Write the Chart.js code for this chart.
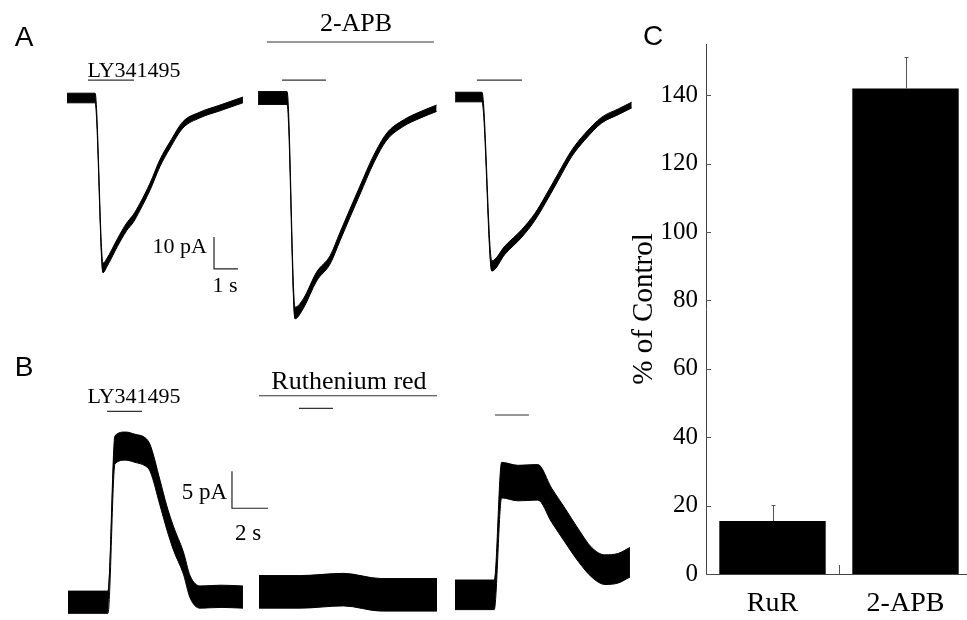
<!DOCTYPE html>
<html><head><meta charset="utf-8">
<script src="https://cdn.jsdelivr.net/npm/chart.js@4.4.1/dist/chart.umd.min.js"></script>
<style>
html,body{margin:0;padding:0;background:#fff;overflow:hidden;width:967px;height:620px;}
#wrap{position:relative;width:967px;height:620px;overflow:hidden;background:#fff;}
canvas{position:absolute;}
.t{position:absolute;transform:translate(-50%,-50%);line-height:1;white-space:nowrap;font-family:"Liberation Serif","Times New Roman",serif;color:#000;z-index:5;}
.r{transform:translate(-100%,-50%);}
.p{font-family:"Liberation Sans",Arial,sans-serif;font-size:28px;}
</style></head>
<body><div id="wrap">
<canvas id="chartA" width="660" height="340" style="left:0;top:0"></canvas>
<canvas id="chartB" width="660" height="280" style="left:0;top:340px"></canvas>
<canvas id="chartC" width="360" height="620" style="left:620px;top:0"></canvas>
<div class="t p" style="left:24px;top:37px">A</div>
<div class="t p" style="left:24px;top:367px">B</div>
<div class="t p" style="left:653px;top:36px">C</div>
<div class="t" style="left:134px;top:69.5px;font-size:22px">LY341495</div>
<div class="t" style="left:356px;top:23px;font-size:26px">2-APB</div>
<div class="t r" style="left:207px;top:246px;font-size:22px">10 pA</div>
<div class="t" style="left:225px;top:284.5px;font-size:22px">1 s</div>
<div class="t" style="left:134px;top:396px;font-size:22px">LY341495</div>
<div class="t" style="left:349px;top:381px;font-size:26px">Ruthenium red</div>
<div class="t r" style="left:227px;top:491px;font-size:23px">5 pA</div>
<div class="t" style="left:248px;top:532px;font-size:23px">2 s</div>
</div>
<script>
// ---------- Panel A: currents (pA) vs time (s) ----------
const timeA1 = [0, 1.17, 1.5, 1.65, 2.1, 2.49, 2.75, 3.04, 3.46, 3.875, 4.29, 4.83, 5.54, 6.375, 7.33];
const currentA1 = [0, 0, -53.1, -51.6, -45.2, -40.2, -37.8, -34.0, -27.7, -20.3, -14.7, -8.4, -5.3, -3.1, -0.6];
const noiseA1 = [1.5, 1.5, 1.5, 1.3, 1.2, 1.2, 1.2, 1.1, 1.1, 1.1, 1.0, 1.0, 0.9, 0.9, 0.9];

const timeA2 = [7.96, 9.17, 9.5, 9.85, 10.4, 10.96, 11.375, 11.79, 12.21, 12.76, 13.32, 14.01, 14.71, 15.4];
const currentA2 = [0, 0, -67.2, -64.2, -55.8, -50.6, -43.3, -36.0, -28.75, -19.4, -12.1, -7.9, -5.3, -3.2];
const noiseA2 = [2.0, 2.0, 1.8, 1.5, 1.4, 1.3, 1.3, 1.3, 1.3, 1.2, 1.1, 1.0, 1.0, 1.0];

const timeA3 = [16.17, 17.29, 17.7, 18.25, 18.95, 19.5, 19.92, 20.47, 21.03, 21.58, 22.28, 22.97, 23.53];
const currentA3 = [0.3, 0.3, -52.5, -47.5, -42.3, -37.1, -31.9, -24.6, -17.3, -12.1, -6.9, -4.3, -2.2];
const noiseA3 = [1.5, 1.5, 1.6, 1.3, 1.2, 1.1, 1.1, 1.1, 1.0, 1.0, 0.9, 0.9, 0.9];

const drugTimesA = [[0.875, 2.79], [8.96, 10.79], [17.08, 18.96]];
const drugLevelA = 5.6;
const apbTimes = [8.33, 15.29];
const apbLevel = 17.5;
const scaleBarA_t = [6.125, 6.125, 7.125];
const scaleBarA_i = [-43.4, -53.4, -53.4];
const rangeA_t = [-2.792, 24.708];
const rangeA_i = [-75.625, 30.625];

// ---------- Panel B ----------
const timeB1 = [0, 2.22, 2.61, 3.2, 3.72, 4.3, 4.56, 5.11, 5.48, 5.85, 6.41, 6.78, 7.33, 8.5, 9.72];
const currentB1 = [-0.3, -0.3, 20.3, 20.8, 20.5, 20.0, 19.2, 14.5, 11.2, 8.4, 5.0, 1.8, 0.4, 0.5, 0.4];
const noiseB1 = [1.5, 1.5, 1.9, 1.9, 1.9, 1.9, 1.8, 1.7, 1.6, 1.6, 1.5, 1.5, 1.5, 1.5, 1.5];

const timeB2 = [10.61, 12.9, 15.3, 17.4, 20.5];
const currentB2 = [1.1, 1.1, 1.4, 0.7, 0.7];
const noiseB2 = [2.2, 2.2, 2.2, 2.2, 2.2];

const timeB3 = [21.5, 23.68, 24.09, 25.0, 26.1, 26.87, 27.61, 28.35, 29.09, 29.83, 30.57, 31.22];
const currentB3 = [0.7, 0.7, 16.2, 15.8, 15.9, 12.8, 10.1, 7.4, 5.1, 4.1, 4.3, 5.1];
const noiseB3 = [2.0, 2.0, 2.4, 2.4, 2.4, 2.3, 2.3, 2.2, 2.0, 2.0, 2.0, 2.0];

const drugTimesB = [[2.17, 4.11], [12.83, 14.72], [23.72, 25.61]];
const drugLevelsB = [25.5, 25.9, 25.0];
const rurTimes = [10.61, 20.5];
const rurLevel = 27.6;
const scaleBarB_t = [9.11, 9.11, 11.11];
const scaleBarB_i = [17.4, 12.4, 12.4];
const rangeB_t = [-3.778, 32.889];
const rangeB_i = [-2.703, 35.135];

// ---------- Panel C ----------
const barCategories = ['RuR', '2-APB'];
const barValues = [15.5, 142];
const barErrors = [4.6, 9.2];
const yTickStep = 20;
const yMax = 155;

Chart.defaults.font.family = '"Liberation Serif", "Times New Roman", serif';

function pts(xs, ys) { return xs.map((x, i) => ({x: x, y: ys[i]})); }
function traceDatasets(times, vals, noise) {
  const common = {borderColor: '#000', borderWidth: 1, pointRadius: 0, clip: false, cubicInterpolationMode: 'monotone'};
  return [
    Object.assign({data: pts(times, vals.map((v, i) => v + noise[i])), fill: false}, common),
    Object.assign({data: pts(times, vals.map((v, i) => v - noise[i])), fill: '-1', backgroundColor: '#000'}, common)
  ];
}
function lineDs(xs, ys, color, w) {
  return {data: pts(xs, ys), borderColor: color, borderWidth: w, pointRadius: 0, fill: false, clip: false};
}
function traceOptions(rt, ri) {
  return {
    responsive: false, animation: false, events: [],
    layout: {padding: 0},
    plugins: {legend: {display: false}, tooltip: {enabled: false}},
    elements: {line: {tension: 0}},
    scales: {
      x: {type: 'linear', display: false, min: rt[0], max: rt[1]},
      y: {type: 'linear', display: false, min: ri[0], max: ri[1]}
    }
  };
}

const dsA = [].concat(
  traceDatasets(timeA1, currentA1, noiseA1),
  traceDatasets(timeA2, currentA2, noiseA2),
  traceDatasets(timeA3, currentA3, noiseA3),
  drugTimesA.map(d => lineDs(d, [drugLevelA, drugLevelA], '#333', 1.2)),
  [lineDs(apbTimes, [apbLevel, apbLevel], '#333', 1.2)],
  [lineDs(scaleBarA_t, scaleBarA_i, '#222', 1.2)]
);
new Chart(document.getElementById('chartA'), {type: 'line', data: {datasets: dsA}, options: traceOptions(rangeA_t, rangeA_i)});

const dsB = [].concat(
  traceDatasets(timeB1, currentB1, noiseB1),
  traceDatasets(timeB2, currentB2, noiseB2),
  traceDatasets(timeB3, currentB3, noiseB3),
  drugTimesB.map((d, i) => lineDs(d, [drugLevelsB[i], drugLevelsB[i]], '#333', 1.2)),
  [lineDs(rurTimes, [rurLevel, rurLevel], '#333', 1.2)],
  [lineDs(scaleBarB_t, scaleBarB_i, '#222', 1.2)]
);
new Chart(document.getElementById('chartB'), {type: 'line', data: {datasets: dsB}, options: traceOptions(rangeB_t, rangeB_i)});

const errTickPlugin = {
  id: 'errTicks',
  afterDatasetsDraw(chart) {
    const ctx = chart.ctx, a = chart.chartArea, x = chart.scales.x, y = chart.scales.y;
    ctx.save();
    ctx.strokeStyle = '#555'; ctx.lineWidth = 1;
    barValues.forEach((v, i) => {
      const cx = Math.round(x.getPixelForValue(i)) + 0.5;
      const y0 = y.getPixelForValue(v), y1 = Math.round(y.getPixelForValue(v + barErrors[i])) + 0.5;
      ctx.beginPath(); ctx.moveTo(cx, y0); ctx.lineTo(cx, y1);
      ctx.moveTo(cx - 2, y1); ctx.lineTo(cx + 2, y1); ctx.stroke();
    });
    y.ticks.forEach(t => {
      const py = Math.round(y.getPixelForValue(t.value)) + 0.5;
      ctx.beginPath(); ctx.moveTo(a.left, py); ctx.lineTo(a.left + 5, py); ctx.stroke();
    });
    for (let i = 0; i < barCategories.length - 1; i++) {
      const px = Math.round((x.getPixelForValue(i) + x.getPixelForValue(i + 1)) / 2) + 0.5;
      ctx.beginPath(); ctx.moveTo(px, a.bottom); ctx.lineTo(px, a.bottom - 9); ctx.stroke();
    }
    ctx.restore();
  }
};

new Chart(document.getElementById('chartC'), {
  type: 'bar',
  data: {labels: barCategories, datasets: [{data: barValues, backgroundColor: '#000', borderWidth: 0, barPercentage: 0.8, categoryPercentage: 1.0}]},
  options: {
    responsive: false, animation: false, events: [],
    layout: {padding: {top: 44, right: 8, left: 0, bottom: 0}},
    plugins: {legend: {display: false}, tooltip: {enabled: false}},
    scales: {
      x: {grid: {display: false, drawTicks: false}, border: {display: true, color: '#444', width: 1},
          ticks: {font: {size: 28}, color: '#000', padding: 13},
          afterFit(s) { s.height = 46; }},
      y: {min: 0, max: yMax, grid: {display: false, drawTicks: false}, border: {display: true, color: '#444', width: 1},
          ticks: {stepSize: yTickStep, includeBounds: false, font: {size: 25}, color: '#000', padding: 8},
          title: {display: true, text: '% of Control', font: {size: 29}, color: '#000', padding: {top: 7, bottom: 0}},
          afterFit(s) { s.width = 86; }}
    }
  },
  plugins: [errTickPlugin]
});
</script>
</body></html>
